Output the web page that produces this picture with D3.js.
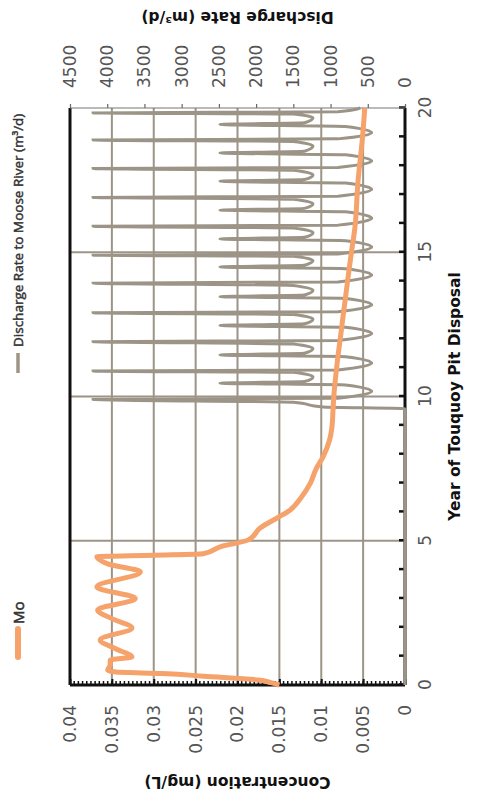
<!DOCTYPE html>
<html>
<head>
<meta charset="utf-8">
<script src="https://cdn.jsdelivr.net/npm/d3@7"></script>
<style>
  body { margin: 0; background: #fff; }
  svg { display: block; }
</style>
</head>
<body>
<svg width="483" height="803"></svg>
<script>
// the chart is drawn upright in an 803x483 frame, then turned 90 degrees anticlockwise

const yearTicks = d3.range(0, 21);
const concTicks = [0, 0.005, 0.01, 0.015, 0.02, 0.025, 0.03, 0.035, 0.04];
const rateTicks = [0, 500, 1000, 1500, 2000, 2500, 3000, 3500, 4000, 4500];

// Mo concentration (mg/L)
const moYears = [0, 0.08, 0.17, 0.3, 0.4, 0.45, 0.52, 0.7, 0.87, 0.97, 1.25, 1.56, 1.98, 2.3, 2.6, 3.0, 3.4, 3.92, 4.2, 4.45,
  4.5, 4.55, 4.8, 5.03, 5.44, 5.8, 6.07, 6.5, 7.0, 7.5, 7.9, 8.5, 9.0, 9.5, 10.0, 11.16, 12.3, 13.0, 13.9, 15.0, 15.8, 17.5, 18.9, 20];
const moConc = [0.015, 0.016, 0.0175, 0.024, 0.029, 0.0345, 0.0355, 0.0352, 0.0352, 0.0326, 0.0345, 0.0364, 0.0326, 0.035, 0.0367, 0.0322, 0.0368, 0.0316, 0.0355, 0.0368,
  0.030, 0.0241, 0.022, 0.0187, 0.0173, 0.0152, 0.0137, 0.0124, 0.0113, 0.0106, 0.0098, 0.0090, 0.0087, 0.0086, 0.0085, 0.0081, 0.0076, 0.0073, 0.0069, 0.0064, 0.006, 0.0056, 0.0051, 0.0048];

// discharge rate to Moose River (m3/d)
const rateYears = [0, 9.58, 9.64, 9.8,
  9.9, 9.94, 10.18, 10.4, 10.46, 10.52, 10.68, 10.84,
  10.88, 10.92, 11.16, 11.38, 11.44, 11.5, 11.66, 11.82,
  11.9, 11.94, 12.18, 12.4, 12.46, 12.52, 12.68, 12.84,
  12.9, 12.94, 13.18, 13.4, 13.46, 13.52, 13.68, 13.85,
  13.93, 13.97, 14.21, 14.43, 14.49, 14.55, 14.71, 14.86,
  14.9, 14.94, 15.18, 15.4, 15.46, 15.52, 15.68, 15.84,
  15.9, 15.94, 16.18, 16.4, 16.46, 16.52, 16.68, 16.84,
  16.9, 16.94, 17.18, 17.4, 17.46, 17.52, 17.68, 17.84,
  17.9, 17.94, 18.16, 18.38, 18.44, 18.5, 18.68, 18.84,
  18.89, 18.93, 19.14, 19.36, 19.43, 19.49, 19.66, 19.79,
  19.83, 19.87, 20];
const rates = [0, 0, 1100, 1500,
  4190, 900, 447, 800, 2485, 1350, 1236, 1500,
  4190, 900, 447, 800, 2485, 1350, 1236, 1500,
  4190, 900, 447, 800, 2485, 1350, 1236, 1500,
  4190, 900, 447, 800, 2485, 1350, 1236, 1500,
  4190, 900, 447, 800, 2485, 1350, 1236, 1500,
  4190, 900, 447, 800, 2485, 1350, 1236, 1500,
  4190, 900, 447, 800, 2485, 1350, 1236, 1500,
  4190, 900, 447, 800, 2485, 1350, 1236, 1500,
  4190, 900, 447, 800, 2485, 1350, 1236, 1500,
  4190, 900, 447, 800, 2485, 1350, 1236, 1500,
  4190, 900, 600];

const W = 803, H = 483,
    margin = {top: 70, right: 108, bottom: 78, left: 118},
    width = W - margin.left - margin.right,
    height = H - margin.top - margin.bottom;

const orange = "#f6a26b", grey = "#9c9486";

const svg = d3.select("svg");
const root = svg.append("g").attr("transform", "translate(0," + W + ") rotate(-90)");
const g = root.append("g").attr("transform", "translate(" + margin.left + "," + margin.top + ")");

const x = d3.scaleLinear().domain([0, 20]).range([0, width]);
const yC = d3.scaleLinear().domain([0, 0.04]).range([height, 0]);
const yR = d3.scaleLinear().domain([0, 4500]).range([height, 0]);

// grid
g.append("g").selectAll("line")
  .data(concTicks.filter(d => d > 0 && d < 0.04))
  .enter().append("line")
    .attr("x1", 0).attr("x2", width)
    .attr("y1", d => yC(d)).attr("y2", d => yC(d))
    .attr("stroke", grey).attr("stroke-width", 2);
g.append("g").selectAll("line")
  .data([5, 10, 15])
  .enter().append("line")
    .attr("x1", d => x(d)).attr("x2", d => x(d))
    .attr("y1", 0).attr("y2", height)
    .attr("stroke", grey).attr("stroke-width", 2);

// frame
g.append("line").attr("x1", 0).attr("x2", width).attr("y1", 0).attr("y2", 0)
  .attr("stroke", "#111").attr("stroke-width", 3);
g.append("line").attr("x1", 0).attr("x2", width).attr("y1", height).attr("y2", height)
  .attr("stroke", "#111").attr("stroke-width", 3);
g.append("line").attr("x1", 0).attr("x2", 0).attr("y1", 0).attr("y2", height)
  .attr("stroke", "#111").attr("stroke-width", 3);

// minor ticks on the concentration axis
g.append("g").selectAll("line")
  .data(d3.range(0, 0.04001, 0.0005))
  .enter().append("line")
    .attr("x1", 0).attr("x2", 4)
    .attr("y1", d => yC(d)).attr("y2", d => yC(d))
    .attr("stroke", "#111").attr("stroke-width", 1.5);

const styleAxis = function(sel) {
  sel.select(".domain").remove();
  sel.selectAll("text")
    .attr("font-family", "DejaVu Sans, sans-serif")
    .attr("font-size", 17)
    .attr("fill", "#555");
};

g.append("g")
    .attr("transform", "translate(0," + height + ")")
    .call(d3.axisBottom(x).tickValues(yearTicks)
      .tickFormat(d => d % 5 === 0 ? d : "")
      .tickSizeInner(-6).tickSizeOuter(0).tickPadding(14))
    .call(styleAxis)
    .call(s => s.selectAll(".tick line").attr("stroke", "#111").attr("stroke-width", 2.5));

g.append("g")
    .call(d3.axisLeft(yC).tickValues(concTicks)
      .tickFormat(d => d === 0 ? "0" : d3.format("~g")(d))
      .tickSizeInner(-6).tickSizeOuter(0).tickPadding(20))
    .call(styleAxis)
    .call(s => s.selectAll(".tick line").attr("stroke", "#111").attr("stroke-width", 2));

g.append("g")
    .attr("transform", "translate(" + width + ",0)")
    .call(d3.axisRight(yR).tickValues(rateTicks)
      .tickFormat(d3.format("d"))
      .tickSizeInner(4).tickSizeOuter(0).tickPadding(16))
    .call(styleAxis)
    .call(s => s.selectAll(".tick line").attr("stroke", "#666").attr("stroke-width", 1.2));

g.append("line").attr("x1", width).attr("x2", width).attr("y1", 0).attr("y2", height)
  .attr("stroke", "#777").attr("stroke-width", 1.2);

// series
const rateLine = d3.line()
    .x(i => x(rateYears[i]))
    .y(i => yR(rates[i]))
    .curve(d3.curveMonotoneX);
g.append("path")
    .attr("d", rateLine(d3.range(rateYears.length)))
    .attr("fill", "none").attr("stroke", grey).attr("stroke-width", 3);

const moLine = d3.line()
    .x(i => x(moYears[i]))
    .y(i => yC(moConc[i]))
    .curve(d3.curveMonotoneX);
g.append("path")
    .attr("d", moLine(d3.range(moYears.length)))
    .attr("fill", "none").attr("stroke", orange).attr("stroke-width", 5)
    .attr("stroke-linejoin", "round");

// axis titles
const title = function(sel) {
  sel.attr("font-family", "DejaVu Sans, sans-serif")
    .attr("font-weight", "bold")
    .attr("font-size", 15.5)
    .attr("fill", "#111")
    .attr("text-anchor", "middle");
};

root.append("text")
    .attr("x", margin.left + width / 2).attr("y", 460)
    .text("Year of Touquoy Pit Disposal").call(title);
root.append("text")
    .attr("transform", "translate(26," + (margin.top + height / 2) + ") rotate(-90)")
    .text("Concentration (mg/L)").call(title);
root.append("text")
    .attr("transform", "translate(791," + (margin.top + height / 2) + ") rotate(-90)")
    .text("Discharge Rate (m³/d)").call(title);

// legend
const legend = root.append("g").attr("transform", "translate(0,18)");
legend.append("line").attr("x1", 146).attr("x2", 174)
    .attr("stroke", orange).attr("stroke-width", 6).attr("stroke-linecap", "round");
legend.append("text").attr("x", 179).attr("y", 5.5)
    .attr("font-family", "Open Sans, sans-serif").attr("font-size", 15)
    .attr("fill", "#333").attr("stroke", "#333").attr("stroke-width", 0.6)
    .text("Mo");
legend.append("line").attr("x1", 430).attr("x2", 450)
    .attr("stroke", grey).attr("stroke-width", 3.5);
legend.append("text").attr("x", 456).attr("y", 5)
    .attr("font-family", "Open Sans, sans-serif").attr("font-size", 13.5)
    .attr("fill", "#333").attr("stroke", "#333").attr("stroke-width", 0.45)
    .text("Discharge Rate to Moose River (m³/d)");
</script>
</body>
</html>
